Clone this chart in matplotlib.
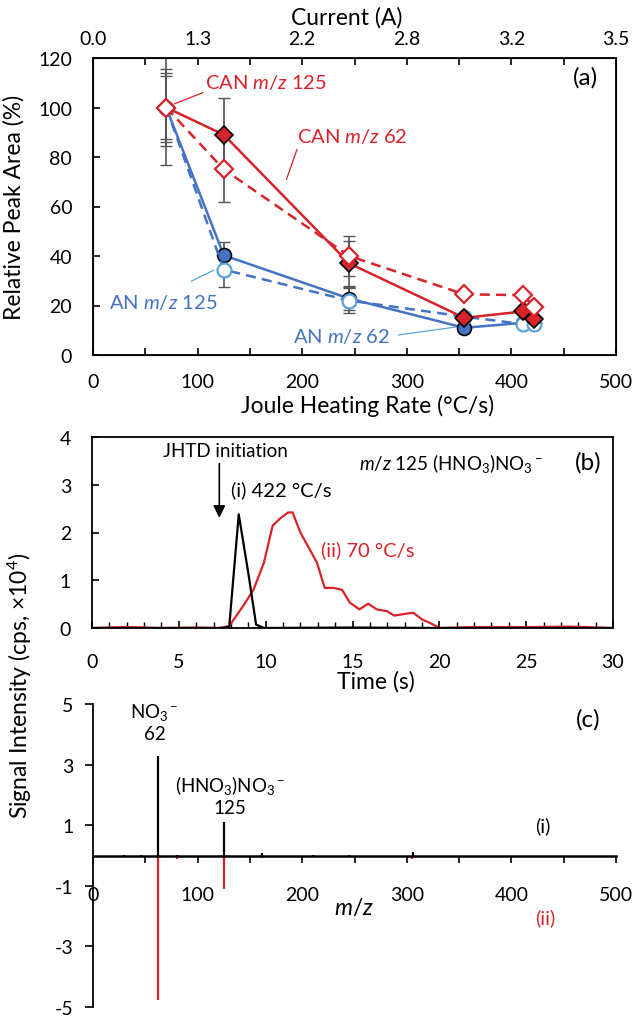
import matplotlib
matplotlib.use("Agg")
import matplotlib.pyplot as plt

plt.rcParams['font.family'] = ['Lato', 'DejaVu Sans']
plt.rcParams['mathtext.fontset'] = 'custom'
plt.rcParams['mathtext.rm'] = 'Lato'
plt.rcParams['mathtext.it'] = 'Lato:italic'
plt.rcParams['axes.unicode_minus'] = False

RED = '#d8232a'
BLUE = '#4472c4'
LBLUE = '#5ba3d9'
GREY = '#555555'

# panel (a): relative peak area vs Joule heating rate
rate = [70, 125, 245, 355, 411, 422]
current_ticks = [0, 100, 200, 300, 400, 500]
current_labels = ['0.0', '1.3', '2.2', '2.8', '3.2', '3.5']
can125 = [100, 75, 40, 24.5, 24.2, 19.3]
can125_err = [12.8, 13, 8, 0, 0, 0]
can62 = [100, 89, 37, 15, 17.6, 14.5]
can62_err = [23.2, 15, 9, 0, 0, 0]
an125 = [100, 34.5, 22, 15.5, 12.5, 12.5]
an125_err = [14, 7, 5, 0, 0, 0]
an62 = [100, 40.3, 22.8, 11, 13, 12.8]
an62_err = [15.4, 5.5, 4.5, 0, 0, 0]

# panel (b): extracted ion chromatograms, m/z 125
t_i = [0, 7.5, 7.9, 8.45, 9.0, 9.45, 9.9, 15, 20, 30]
s_i = [0, 0, 0.02, 2.38, 1.15, 0.07, 0, 0.01, 0, 0]
t_ii = [0, 2, 4, 6, 7.3, 7.9, 8.7, 9.3, 9.9, 10.4, 10.85, 11.3, 11.55, 12.0,
        12.95, 13.4, 13.9, 14.4, 14.85, 15.4, 15.9, 16.4, 17.0, 17.4, 18.1,
        18.5, 19.0, 19.5, 20.0, 22, 25.5, 27.5, 30]
s_ii = [0, 0.02, 0, 0.01, 0, 0.04, 0.46, 0.8, 1.37, 2.14, 2.3, 2.42, 2.42, 2.0,
        1.37, 0.84, 0.84, 0.8, 0.53, 0.39, 0.51, 0.39, 0.35, 0.26, 0.3,
        0.32, 0.18, 0.1, 0, 0.02, 0.02, 0.03, 0]

# panel (c): mass spectra
mz_i = [30, 46, 62, 80, 125, 162, 210, 245, 306]
int_i = [0.02, 0.03, 3.27, 0.03, 1.11, 0.08, 0.03, 0.03, 0.13]
mz_ii = [62, 80, 125, 162, 210, 240, 258, 305]
int_ii = [-4.76, -0.1, -1.09, -0.07, -0.05, -0.06, -0.05, -0.1]

W, H = 638, 1020
fig = plt.figure(figsize=(W / 100, H / 100), dpi=100)


def box(l, t, r, b):
    return [l / W, 1 - b / H, (r - l) / W, (b - t) / H]


TICK = 14
LAB = 16.5
ANN = 14.5

# ---------------- (a)
ax = fig.add_axes(box(93, 59, 616, 356))
for y, e in [(can62, can62_err), (can125, can125_err), (an62, an62_err), (an125, an125_err)]:
    ax.errorbar(rate, y, yerr=e, fmt='none', ecolor=GREY, elinewidth=1.2, capsize=4, zorder=1)
ax.plot(rate, an62, '-', color=BLUE, lw=1.8, marker='o', ms=10,
        mfc=BLUE, mec='black', mew=1.2, zorder=3)
ax.plot(rate, an125, '--', color=BLUE, lw=1.8, dashes=(4, 2.5), marker='o', ms=10,
        mfc='white', mec=LBLUE, mew=1.6, zorder=4)
ax.plot(rate, can62, '-', color=RED, lw=1.8, marker='D', ms=9,
        mfc=RED, mec='black', mew=1.2, zorder=5)
ax.plot(rate, can125, '--', color=RED, lw=1.8, dashes=(4, 2.5), marker='D', ms=9,
        mfc='white', mec=RED, mew=1.6, zorder=6)
ax.set_xlim(0, 500)
ax.set_ylim(0, 120)
ax.set_xticks([0, 100, 200, 300, 400, 500])
ax.set_xticks([50, 150, 250, 350, 450], minor=True)
ax.set_yticks(range(0, 121, 20))
ax.tick_params(axis='x', which='both', direction='in', length=5, width=1.2, pad=13, labelsize=TICK)
ax.tick_params(axis='y', direction='in', length=5, width=1.2, pad=15, labelsize=TICK)
for s in ax.spines.values():
    s.set_linewidth(1.3)
ax.set_xlabel('Joule Heating Rate (°C/s)', fontsize=LAB)
ax.xaxis.set_label_coords(0.525, -0.13)
ax.set_ylabel('Relative Peak Area (%)', fontsize=LAB)
ax.yaxis.set_label_coords(-0.13, 0.5)

top = ax.twiny()
top.set_xlim(0, 500)
top.set_xticks(current_ticks)
top.set_xticklabels(current_labels)
top.set_xticks([50, 150, 250, 350, 450], minor=True)
top.tick_params(axis='x', which='both', direction='in', length=5, width=1.2, pad=8, labelsize=TICK)
top.set_xlabel('Current (A)', fontsize=LAB)
top.xaxis.set_label_coords(0.485, 1.115)

ax.text(107, 110.5, r'CAN $\mathit{m/z}$ 125', color=RED, fontsize=ANN, va='center')
ax.plot([78, 105], [101.5, 106], color=RED, lw=0.9)
ax.text(195, 88.8, r'CAN $\mathit{m/z}$ 62', color=RED, fontsize=ANN, va='center')
ax.plot([185, 195], [71, 83], color=RED, lw=0.9)
ax.text(15, 21.7, r'AN $\mathit{m/z}$ 125', color=BLUE, fontsize=ANN, va='center')
ax.plot([94, 115], [29.8, 34.2], color=LBLUE, lw=0.9)
ax.text(191, 7.9, r'AN $\mathit{m/z}$ 62', color=BLUE, fontsize=ANN, va='center')
ax.plot([292, 350], [8.1, 11.5], color=LBLUE, lw=0.9)
ax.text(471, 112.5, '(a)', fontsize=LAB + 1, ha='center', va='center')

# ---------------- (b)
bx = fig.add_axes(box(92, 438, 613, 629))
bx.plot(t_ii, s_ii, color=RED, lw=1.6, zorder=2)
bx.plot(t_i, s_i, color='black', lw=1.6, zorder=3)
bx.set_xlim(0, 30)
bx.set_ylim(0, 4)
bx.set_xticks(range(0, 31, 5))
bx.set_xticks(range(0, 31, 1), minor=True)
bx.set_yticks(range(0, 5))
bx.tick_params(axis='x', which='major', direction='in', length=5, width=1.2, pad=18, labelsize=TICK)
bx.tick_params(axis='x', which='minor', direction='in', length=4, width=1.0)
bx.tick_params(axis='y', direction='in', length=5, width=1.2, pad=15, labelsize=TICK)
for s in bx.spines.values():
    s.set_linewidth(1.3)
bx.set_xlabel('Time (s)', fontsize=LAB)
bx.xaxis.set_label_coords(0.545, -0.22)
bx.text(7.68, 3.72, 'JHTD initiation', fontsize=13.5, ha='center', va='center')
bx.annotate('', xy=(7.33, 2.25), xytext=(7.33, 3.5),
            arrowprops=dict(arrowstyle='-|>', color='black', lw=1.2, mutation_scale=18))
bx.text(8.03, 2.91, '(i) 422 °C/s', fontsize=ANN, va='center')
bx.text(13.2, 1.65, '(ii) 70 °C/s', fontsize=ANN, va='center', color=RED)
bx.text(15.4, 3.47, r'$\mathit{m/z}$ 125 (HNO$_3$)NO$_3$$^-$', fontsize=13.5, va='center')
bx.text(28.6, 3.47, '(b)', fontsize=LAB + 1, ha='center', va='center')

# ---------------- (c)
cx = fig.add_axes(box(93, 705, 616, 1008))
cx.vlines(mz_ii, 0, int_ii, color=RED, lw=1.6, zorder=2)
cx.vlines(mz_i, 0, int_i, color='black', lw=1.6, zorder=3)
cx.set_xlim(0, 500)
cx.set_ylim(-5, 5)
cx.spines['top'].set_visible(False)
cx.spines['right'].set_visible(False)
cx.spines['bottom'].set_position(('data', 0))
cx.spines['bottom'].set_linewidth(1.8)
cx.spines['left'].set_linewidth(1.3)
cx.set_xticks([0, 100, 200, 300, 400, 500])
cx.set_xticks([50, 150, 250, 350, 450], minor=True)
cx.set_yticks([-5, -3, -1, 1, 3, 5])
cx.tick_params(axis='x', which='both', direction='out', length=5, width=1.2, pad=17, labelsize=TICK)
cx.tick_params(axis='y', direction='out', length=6, width=1.2, pad=8, labelsize=TICK)
cx.text(249, -1.7, r'$\mathit{m/z}$', fontsize=LAB, ha='center', va='center')
cx.text(59, 4.74, r'NO$_3$$^-$', fontsize=13.5, ha='center', va='center')
cx.text(59, 4.03, '62', fontsize=13.5, ha='center', va='center')
cx.text(131, 2.35, r'(HNO$_3$)NO$_3$$^-$', fontsize=13.5, ha='center', va='center')
cx.text(131, 1.6, '125', fontsize=13.5, ha='center', va='center')
cx.text(430, 1.0, '(i)', fontsize=ANN, ha='center', va='center')
cx.text(432, -2.03, '(ii)', fontsize=ANN, ha='center', va='center', color=RED)
cx.text(473, 4.5, '(c)', fontsize=LAB + 1, ha='center', va='center')

fig.text(20 / W, 1 - 686 / H, r'Signal Intensity (cps, ×10$^4$)', rotation=90,
         fontsize=LAB, ha='center', va='center')

fig.savefig('out.png', dpi=100)
